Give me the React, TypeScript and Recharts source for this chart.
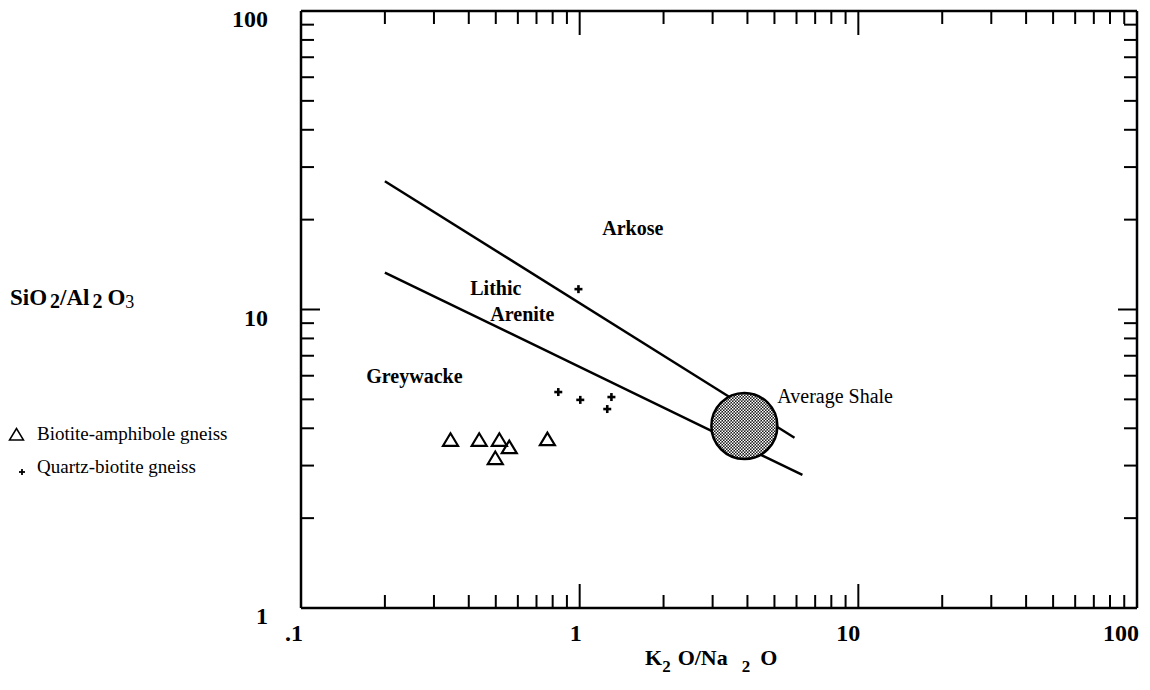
import React from 'react';
import { ScatterChart, Scatter, XAxis, YAxis, Legend } from 'recharts';

// sample points
const biotiteAmphibole = [
  { x: 0.344, y: 3.66 },
  { x: 0.436, y: 3.66 },
  { x: 0.515, y: 3.66 },
  { x: 0.559, y: 3.46 },
  { x: 0.498, y: 3.18 },
  { x: 0.766, y: 3.68 },
];
const quartzBiotite = [
  { x: 0.99, y: 11.7 },
  { x: 0.838, y: 5.29 },
  { x: 1.005, y: 4.98 },
  { x: 1.3, y: 5.09 },
  { x: 1.256, y: 4.64 },
];

// field boundaries
const upperBoundary = [{ x: 0.2, y: 26.9 }, { x: 5.9, y: 3.72 }];
const lowerBoundary = [{ x: 0.2, y: 13.3 }, { x: 6.3, y: 2.79 }];
const averageShale = [{ x: 3.9, y: 4.07 }];

const fieldLabels = [
  { x: 1.205, y: 17.8, text: 'Arkose', bold: true },
  { x: 0.405, y: 11.2, text: 'Lithic', bold: true },
  { x: 0.478, y: 9.15, text: 'Arenite', bold: true },
  { x: 0.1715, y: 5.67, text: 'Greywacke', bold: true },
  { x: 5.12, y: 4.86, text: 'Average Shale', bold: false },
];

const legendNames = ['Biotite-amphibole gneiss', 'Quartz-biotite gneiss'];

const xMajor = [0.1, 1, 10, 100];
const xMajorLabels = ['.1', '1', '10', '100'];
const yMajor = [1, 10, 100];
const yMajorLabels = ['1', '10', '100'];
const steps = [1, 2, 3, 4, 5, 6, 7, 8, 9];

const xTicks = [0.1, 1, 10]
  .flatMap((d) => steps.map((s) => Number((d * s).toPrecision(2))))
  .concat(100);
const yTicks = [1, 10]
  .flatMap((d) => steps.map((s) => Number((d * s).toPrecision(2))))
  .concat(100);

const FONT = 'Liberation Serif';
const serif = (size: number, bold = true) => ({ fontFamily: FONT, fontSize: size, fontWeight: bold ? 700 : 400 });
const AXIS_LINE = { stroke: '#000', strokeWidth: 2.5 };

const BottomTick = (props: any) => {
  const { x, y, payload } = props;
  const i = xMajor.indexOf(payload.value);
  const major = i >= 0;
  return (
    <g>
      <line x1={x} x2={x} y1={y} y2={y - (major ? 24 : 13)} stroke="#000" strokeWidth={2} />
      {major && (
        <text x={x + 2} y={y + 33} textAnchor="end" style={serif(24)} fill="#000">
          {xMajorLabels[i]}
        </text>
      )}
    </g>
  );
};

const TopTick = (props: any) => {
  const { x, y, payload } = props;
  const major = xMajor.includes(payload.value);
  return <line x1={x} x2={x} y1={y} y2={y + (major ? 24 : 13)} stroke="#000" strokeWidth={2} />;
};

const LeftTick = (props: any) => {
  const { x, y, payload } = props;
  const i = yMajor.indexOf(payload.value);
  const major = i >= 0;
  return (
    <g>
      <line x1={x} x2={x + (major ? 19 : 13)} y1={y} y2={y} stroke="#000" strokeWidth={2} />
      {major && (
        <text x={x - 33} y={y + 16} textAnchor="end" style={serif(24)} fill="#000">
          {yMajorLabels[i]}
        </text>
      )}
    </g>
  );
};

const RightTick = (props: any) => {
  const { x, y, payload } = props;
  const major = yMajor.includes(payload.value);
  return <line x1={x} x2={x - (major ? 19 : 13)} y1={y} y2={y} stroke="#000" strokeWidth={2} />;
};

const XTitle = (props: any) => {
  const { viewBox } = props;
  return (
    <text x={viewBox.x + 344} y={viewBox.y + 57} style={serif(22)} fill="#000">
      K
      <tspan dy={7} style={serif(17)}>2</tspan>
      <tspan dx={7} dy={-7}>O/Na</tspan>
      <tspan dx={14} dy={7} style={serif(17)}>2</tspan>
      <tspan dx={10} dy={-7}>O</tspan>
    </text>
  );
};

const YTitle = (props: any) => {
  const { viewBox } = props;
  return (
    <text x={viewBox.x + 10} y={viewBox.y + 294} style={serif(23)} fill="#000">
      SiO
      <tspan dx={3} dy={3} style={serif(20)}>2</tspan>
      <tspan dy={-3}>/Al</tspan>
      <tspan dx={3} dy={3} style={serif(20)}>2</tspan>
      <tspan dx={5} dy={-3}>O</tspan>
      <tspan dy={3} style={serif(18, false)}>3</tspan>
    </text>
  );
};

const Triangle = (props: any) => {
  const { cx, cy } = props;
  return (
    <polygon
      points={`${cx},${cy - 6.5} ${cx - 7.5},${cy + 6} ${cx + 7.5},${cy + 6}`}
      fill="none"
      stroke="#000"
      strokeWidth={2.2}
    />
  );
};

const Plus = (props: any) => {
  const { cx, cy } = props;
  return (
    <g stroke="#000" strokeWidth={2.6}>
      <line x1={cx - 4} x2={cx + 4} y1={cy} y2={cy} />
      <line x1={cx} x2={cx} y1={cy - 4} y2={cy + 4} />
    </g>
  );
};

const ShaleCircle = (props: any) => {
  const { cx, cy } = props;
  return (
    <g>
      <defs>
        <pattern id="shaleDots" width={3} height={3} patternUnits="userSpaceOnUse">
          <rect width={3} height={3} fill="#1a1a1a" />
          <rect x={0} y={0} width={1.5} height={1.5} fill="#fff" />
          <rect x={1.5} y={1.5} width={1.5} height={1.5} fill="#fff" />
        </pattern>
      </defs>
      <circle cx={cx} cy={cy} r={33} fill="url(#shaleDots)" stroke="#000" strokeWidth={2.5} />
    </g>
  );
};

const FieldLabel = (props: any) => {
  const { cx, cy, payload } = props;
  return (
    <text x={cx} y={cy} style={serif(20, payload.bold)} fill="#000">
      {payload.text}
    </text>
  );
};

const NoMark = () => <g />;

const LegendBox = () => (
  <svg width={260} height={70} style={{ display: 'block' }}>
    <polygon points="16.5,8.5 9.5,20 23.5,20" fill="none" stroke="#000" strokeWidth={1.5} />
    <text x={37} y={20} style={serif(19, false)} fill="#000">{legendNames[0]}</text>
    <g stroke="#000" strokeWidth={1.8}>
      <line x1={19} x2={25} y1={52} y2={52} />
      <line x1={22} x2={22} y1={49} y2={55} />
    </g>
    <text x={37} y={53} style={serif(19, false)} fill="#000">{legendNames[1]}</text>
  </svg>
);

export default function App() {
  return (
    <div style={{ position: 'absolute', left: 0, top: 0, width: 1150, height: 690, background: '#fff' }}>
      <ScatterChart width={1150} height={690} margin={{ top: 10, right: 12, left: 0, bottom: 0 }}>
        <XAxis
          xAxisId="b"
          dataKey="x"
          type="number"
          scale="log"
          domain={[0.1, 100]}
          allowDataOverflow
          ticks={xTicks}
          interval={0}
          orientation="bottom"
          height={82}
          tickSize={0}
          tickMargin={0}
          tickLine={false}
          axisLine={AXIS_LINE}
          tick={BottomTick}
          label={(p: any) => <XTitle {...p} />}
        />
        <XAxis
          xAxisId="t"
          dataKey="x"
          type="number"
          scale="log"
          domain={[0.1, 100]}
          allowDataOverflow
          ticks={xTicks}
          interval={0}
          orientation="top"
          height={1}
          tickSize={0}
          tickMargin={0}
          tickLine={false}
          axisLine={AXIS_LINE}
          tick={TopTick}
        />
        <YAxis
          yAxisId="l"
          dataKey="y"
          type="number"
          scale="log"
          domain={[1, 100]}
          allowDataOverflow
          ticks={yTicks}
          interval={0}
          orientation="left"
          width={301}
          tickSize={0}
          tickMargin={0}
          tickLine={false}
          axisLine={AXIS_LINE}
          tick={LeftTick}
          label={(p: any) => <YTitle {...p} />}
        />
        <YAxis
          yAxisId="r"
          dataKey="y"
          type="number"
          scale="log"
          domain={[1, 100]}
          allowDataOverflow
          ticks={yTicks}
          interval={0}
          orientation="right"
          width={1}
          tickSize={0}
          tickMargin={0}
          tickLine={false}
          axisLine={AXIS_LINE}
          tick={RightTick}
        />
        <Legend
          layout="vertical"
          align="center"
          verticalAlign="middle"
          wrapperStyle={{ left: 0, top: 420, width: 260, height: 70 }}
          content={() => <LegendBox />}
        />
        <Scatter xAxisId="t" yAxisId="r" name="frame" data={averageShale} shape={NoMark} legendType="none" isAnimationActive={false} />
        <Scatter xAxisId="b" yAxisId="l" name="upper" data={upperBoundary} line={{ stroke: '#000', strokeWidth: 2.5 }} shape={NoMark} legendType="none" isAnimationActive={false} />
        <Scatter xAxisId="b" yAxisId="l" name="lower" data={lowerBoundary} line={{ stroke: '#000', strokeWidth: 2.5 }} shape={NoMark} legendType="none" isAnimationActive={false} />
        <Scatter xAxisId="b" yAxisId="l" name="Average Shale" data={averageShale} shape={ShaleCircle} legendType="none" isAnimationActive={false} />
        <Scatter xAxisId="b" yAxisId="l" name={legendNames[0]} data={biotiteAmphibole} shape={Triangle} isAnimationActive={false} />
        <Scatter xAxisId="b" yAxisId="l" name={legendNames[1]} data={quartzBiotite} shape={Plus} isAnimationActive={false} />
        <Scatter xAxisId="b" yAxisId="l" name="labels" data={fieldLabels} shape={FieldLabel} legendType="none" isAnimationActive={false} />
      </ScatterChart>
    </div>
  );
}
